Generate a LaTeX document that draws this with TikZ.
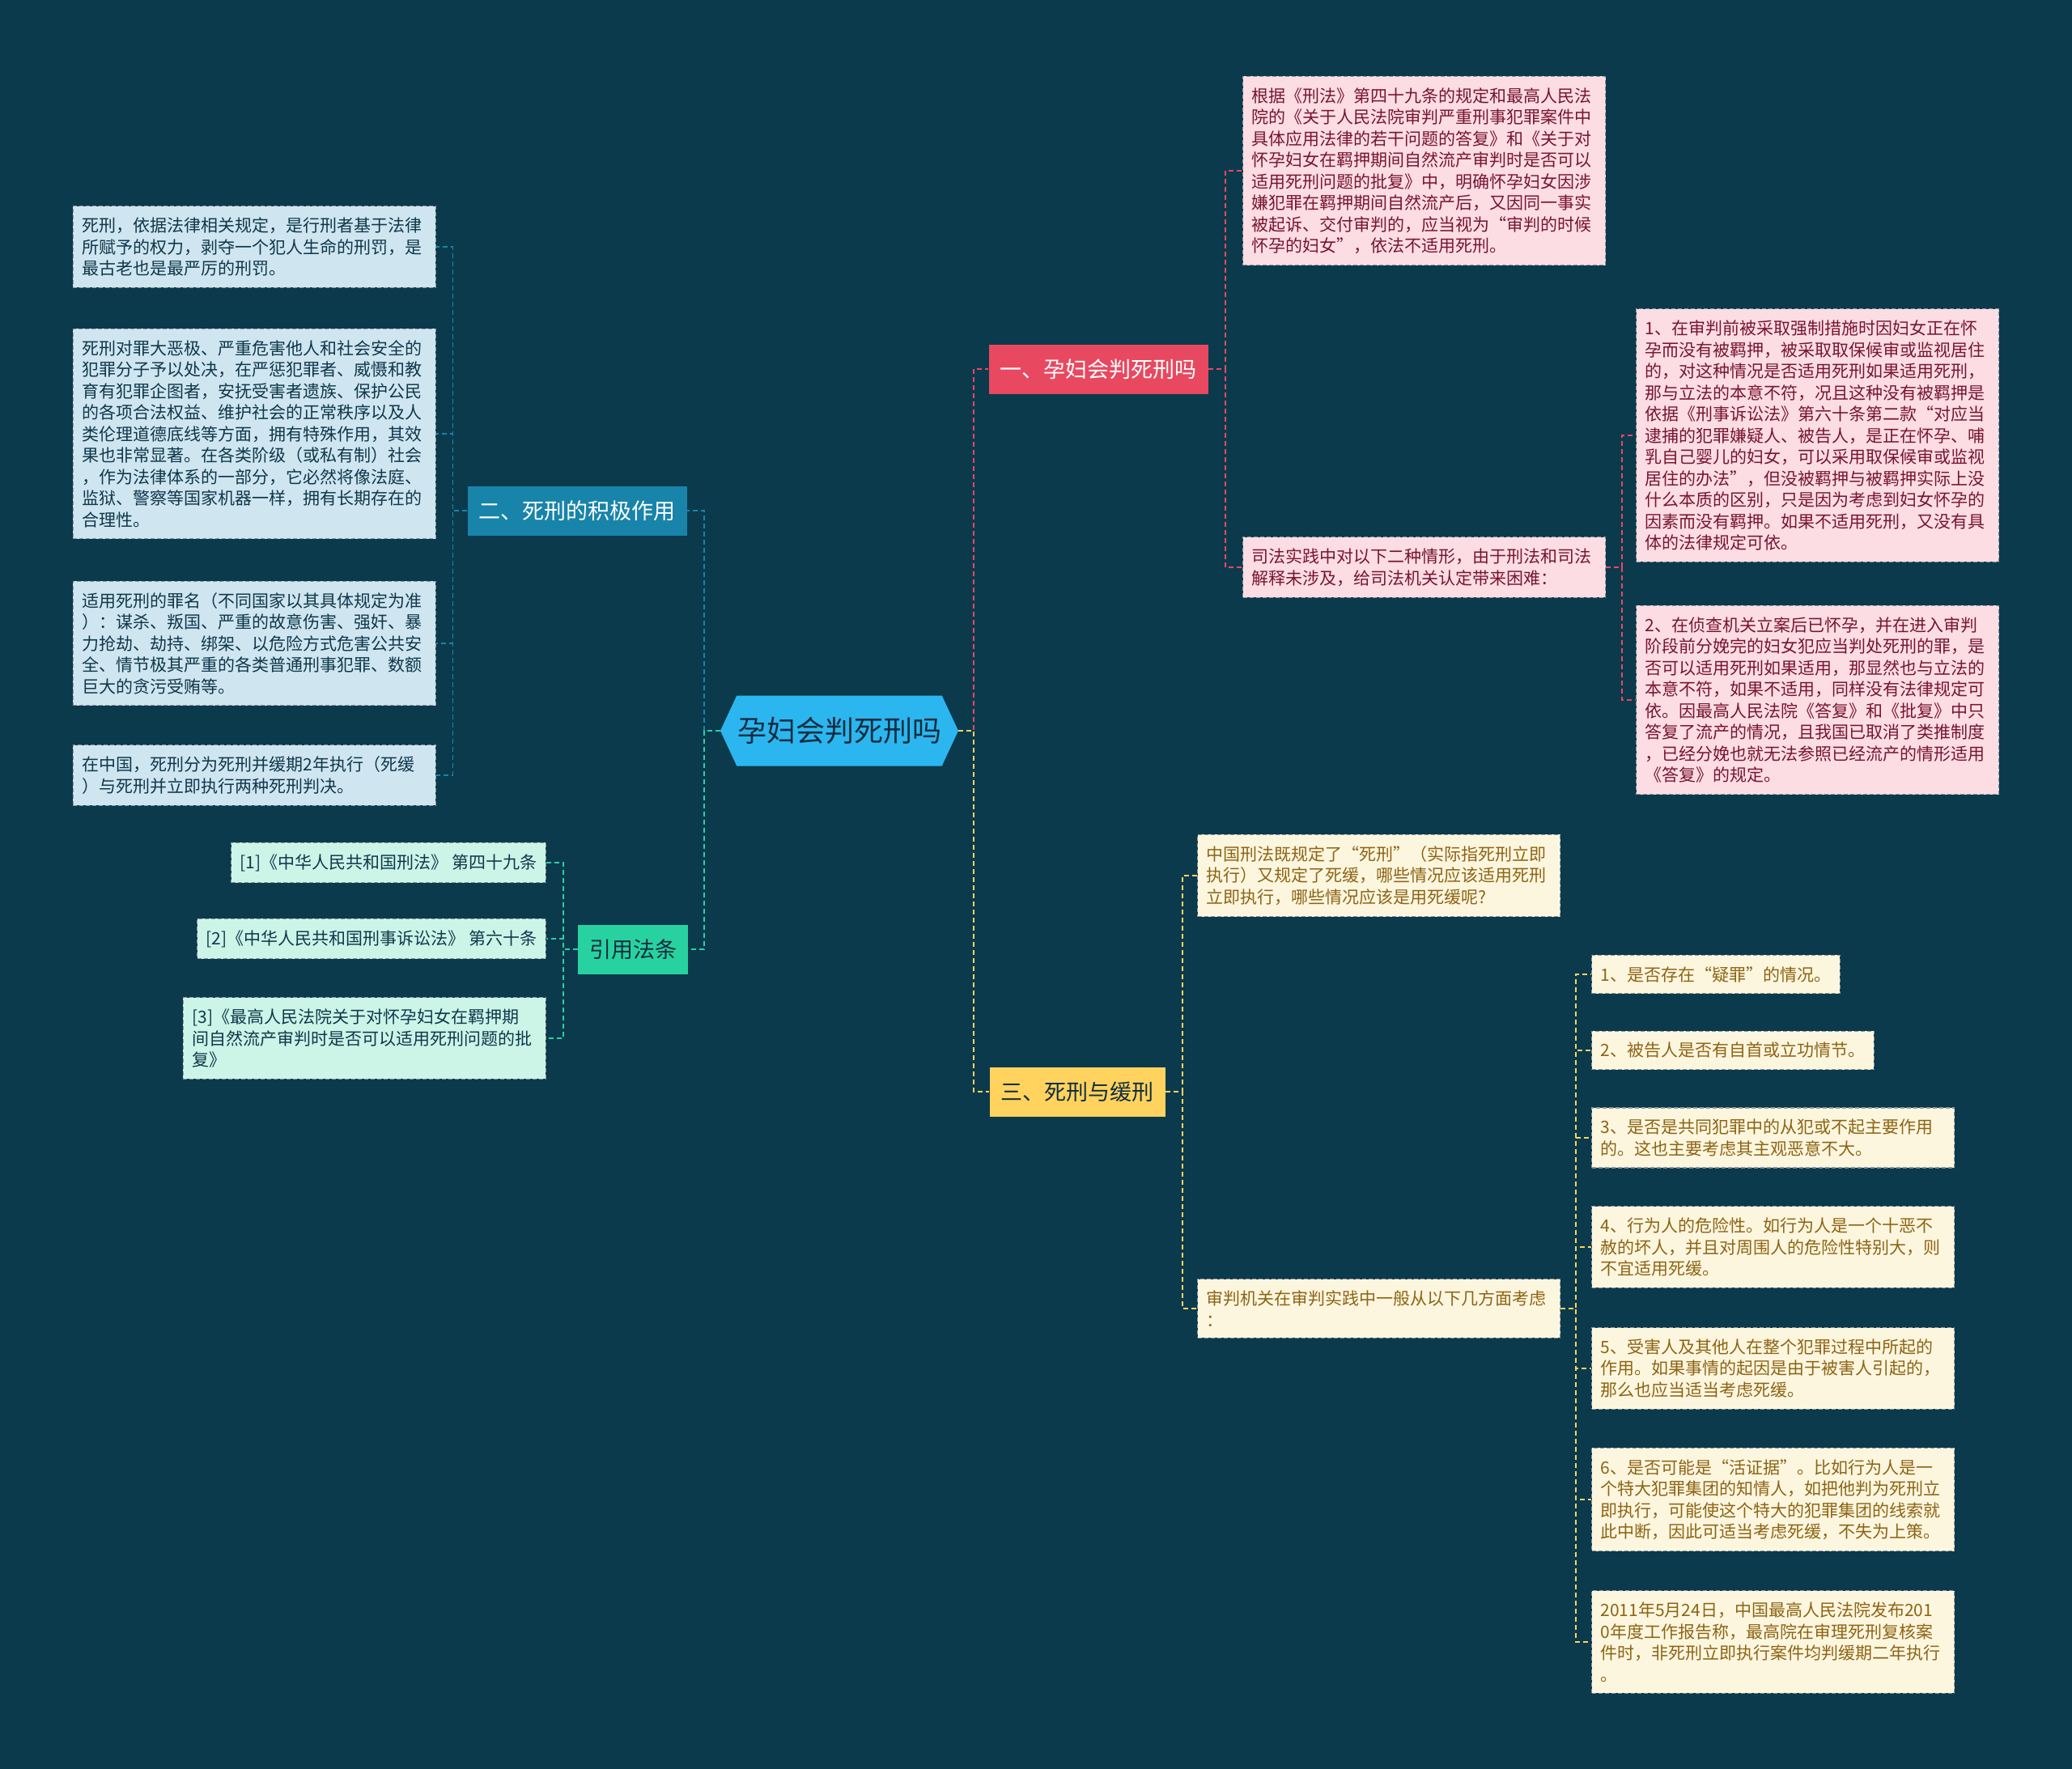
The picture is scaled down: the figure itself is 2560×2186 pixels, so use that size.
\documentclass[tikz,border=0pt]{standalone}
\usepackage{fontspec}
\setmainfont{Noto Sans CJK SC}
\usetikzlibrary{shapes.symbols}

\definecolor{bgteal}{RGB}{12,58,77}
\definecolor{hubblue}{RGB}{43,182,240}
\definecolor{inkdark}{RGB}{18,45,62}
\definecolor{redmain}{RGB}{232,72,96}
\definecolor{redleaf}{RGB}{252,221,228}
\definecolor{redink}{RGB}{120,20,50}
\definecolor{bluemain}{RGB}{24,132,170}
\definecolor{blueleaf}{RGB}{207,230,240}
\definecolor{blueink}{RGB}{15,55,75}
\definecolor{yelmain}{RGB}{255,211,94}
\definecolor{yelleaf}{RGB}{253,246,223}
\definecolor{yelink}{RGB}{140,100,20}
\definecolor{grnmain}{RGB}{40,210,160}
\definecolor{grnleaf}{RGB}{204,245,232}
\definecolor{grnink}{RGB}{15,55,75}
\definecolor{leafedge}{RGB}{140,150,155}

\tikzset{
  hub/.style={signal, signal to=east and west, signal pointer angle=130,
    fill=hubblue, text=inkdark, minimum width=294pt, minimum height=87pt,
    inner sep=0pt, font=\fontsize{36}{40}\selectfont},
  branch/.style={rectangle, fill=#1main, inner xsep=14pt, inner ysep=0pt,
    minimum height=61pt, font=\fontsize{27}{30}\selectfont},
  leaf/.style={rectangle, fill=#1leaf, text=#1ink, draw=leafedge, dashed,
    line width=1.2pt, dash pattern=on 5pt off 3pt, inner xsep=11pt,
    inner ysep=14pt, align=left, font=\fontsize{21}{26.5}\selectfont},
  wideleaf/.style={leaf=#1, text width=426pt},
  link/.style={draw=#1main, line width=1.6pt, dash pattern=on 6pt off 4pt}
}

\begin{document}
\begin{tikzpicture}[x=1pt,y=-1pt]
  \fill[bgteal] (0,0) rectangle (2560,2186);
  \useasboundingbox (0,0) rectangle (2560,2186);

  % centre and main branches
  \node[hub] (hub) at (1037,903) {孕妇会判死刑吗};
  \node[branch=red,text=white] (brA) at (1357,456) {一、孕妇会判死刑吗};
  \node[branch=blue,text=white] (brB) at (713,631) {二、死刑的积极作用};
  \node[branch=yel,text=inkdark] (brC) at (1331,1349) {三、死刑与缓刑};
  \node[branch=grn,text=inkdark] (brD) at (782,1173) {引用法条};

  % branch one
  \node[wideleaf=red,anchor=west] (a1) at (1535,211) {根据《刑法》第四十九条的规定和最高人民法\\院的《关于人民法院审判严重刑事犯罪案件中\\具体应用法律的若干问题的答复》和《关于对\\怀孕妇女在羁押期间自然流产审判时是否可以\\适用死刑问题的批复》中，明确怀孕妇女因涉\\嫌犯罪在羁押期间自然流产后，又因同一事实\\被起诉、交付审判的，应当视为“审判的时候\\怀孕的妇女”，依法不适用死刑。};
  \node[wideleaf=red,anchor=west] (a2) at (1535,701) {司法实践中对以下二种情形，由于刑法和司法\\解释未涉及，给司法机关认定带来困难：};
  \node[wideleaf=red,anchor=west] (a21) at (2021,538) {1、在审判前被采取强制措施时因妇女正在怀\\孕而没有被羁押，被采取取保候审或监视居住\\的，对这种情况是否适用死刑如果适用死刑，\\那与立法的本意不符，况且这种没有被羁押是\\依据《刑事诉讼法》第六十条第二款“对应当\\逮捕的犯罪嫌疑人、被告人，是正在怀孕、哺\\乳自己婴儿的妇女，可以采用取保候审或监视\\居住的办法”，但没被羁押与被羁押实际上没\\什么本质的区别，只是因为考虑到妇女怀孕的\\因素而没有羁押。如果不适用死刑，又没有具\\体的法律规定可依。};
  \node[wideleaf=red,anchor=west] (a22) at (2021,865) {2、在侦查机关立案后已怀孕，并在进入审判\\阶段前分娩完的妇女犯应当判处死刑的罪，是\\否可以适用死刑如果适用，那显然也与立法的\\本意不符，如果不适用，同样没有法律规定可\\依。因最高人民法院《答复》和《批复》中只\\答复了流产的情况，且我国已取消了类推制度\\，已经分娩也就无法参照已经流产的情形适用\\《答复》的规定。};

  % branch two
  \node[wideleaf=blue,anchor=east] (b1) at (539,305) {死刑，依据法律相关规定，是行刑者基于法律\\所赋予的权力，剥夺一个犯人生命的刑罚，是\\最古老也是最严厉的刑罚。};
  \node[wideleaf=blue,anchor=east] (b2) at (539,536) {死刑对罪大恶极、严重危害他人和社会安全的\\犯罪分子予以处决，在严惩犯罪者、威慑和教\\育有犯罪企图者，安抚受害者遗族、保护公民\\的各项合法权益、维护社会的正常秩序以及人\\类伦理道德底线等方面，拥有特殊作用，其效\\果也非常显著。在各类阶级（或私有制）社会\\，作为法律体系的一部分，它必然将像法庭、\\监狱、警察等国家机器一样，拥有长期存在的\\合理性。};
  \node[wideleaf=blue,anchor=east] (b3) at (539,795) {适用死刑的罪名（不同国家以其具体规定为准\\）：谋杀、叛国、严重的故意伤害、强奸、暴\\力抢劫、劫持、绑架、以危险方式危害公共安\\全、情节极其严重的各类普通刑事犯罪、数额\\巨大的贪污受贿等。};
  \node[wideleaf=blue,anchor=east] (b4) at (539,958) {在中国，死刑分为死刑并缓期2年执行（死缓\\）与死刑并立即执行两种死刑判决。};

  % branch three
  \node[wideleaf=yel,anchor=west] (c1) at (1479,1082) {中国刑法既规定了“死刑”（实际指死刑立即\\执行）又规定了死缓，哪些情况应该适用死刑\\立即执行，哪些情况应该是用死缓呢?};
  \node[wideleaf=yel,anchor=west] (c2) at (1479,1617) {审判机关在审判实践中一般从以下几方面考虑\\：};
  \node[leaf=yel,anchor=west] (c21) at (1966,1204) {1、是否存在“疑罪”的情况。};
  \node[leaf=yel,anchor=west] (c22) at (1966,1298) {2、被告人是否有自首或立功情节。};
  \node[wideleaf=yel,anchor=west] (c23) at (1966,1406) {3、是否是共同犯罪中的从犯或不起主要作用\\的。这也主要考虑其主观恶意不大。};
  \node[wideleaf=yel,anchor=west] (c24) at (1966,1541) {4、行为人的危险性。如行为人是一个十恶不\\赦的坏人，并且对周围人的危险性特别大，则\\不宜适用死缓。};
  \node[wideleaf=yel,anchor=west] (c25) at (1966,1691) {5、受害人及其他人在整个犯罪过程中所起的\\作用。如果事情的起因是由于被害人引起的，\\那么也应当适当考虑死缓。};
  \node[wideleaf=yel,anchor=west] (c26) at (1966,1853) {6、是否可能是“活证据”。比如行为人是一\\个特大犯罪集团的知情人，如把他判为死刑立\\即执行，可能使这个特大的犯罪集团的线索就\\此中断，因此可适当考虑死缓，不失为上策。};
  \node[wideleaf=yel,anchor=west] (c27) at (1966,2029) {2011年5月24日，中国最高人民法院发布201\\0年度工作报告称，最高院在审理死刑复核案\\件时，非死刑立即执行案件均判缓期二年执行\\。};

  % branch four
  \node[leaf=grn,anchor=east] (d1) at (675,1066) {[1]《中华人民共和国刑法》 第四十九条};
  \node[leaf=grn,anchor=east] (d2) at (675,1160) {[2]《中华人民共和国刑事诉讼法》 第六十条};
  \node[wideleaf=grn,anchor=east] (d3) at (675,1283) {[3]《最高人民法院关于对怀孕妇女在羁押期\\间自然流产审判时是否可以适用死刑问题的批\\复》};

  % connectors
  \draw[link=red] (hub.east) -- ++(19,0) |- (brA.west);
  \draw[link=yel] (hub.east) -- ++(19,0) |- (brC.west);
  \draw[link=blue] (hub.west) -- ++(-20,0) |- (brB.east);
  \draw[link=grn] (hub.west) -- ++(-20,0) |- (brD.east);
  \foreach \k in {a1,a2}
    \draw[link=red] (brA.east) -- ++(21,0) |- (\k.west);
  \foreach \k in {a21,a22}
    \draw[link=red] (a2.east) -- ++(20,0) |- (\k.west);
  \foreach \k in {b1,b2,b3,b4}
    \draw[link=blue] (brB.west) -- ++(-18,0) |- (\k.east);
  \foreach \k in {c1,c2}
    \draw[link=yel] (brC.east) -- ++(21,0) |- (\k.west);
  \foreach \k in {c21,c22,c23,c24,c25,c26,c27}
    \draw[link=yel] (c2.east) -- ++(19,0) |- (\k.west);
  \foreach \k in {d1,d2,d3}
    \draw[link=grn] (brD.west) -- ++(-18,0) |- (\k.east);
\end{tikzpicture}
\end{document}
